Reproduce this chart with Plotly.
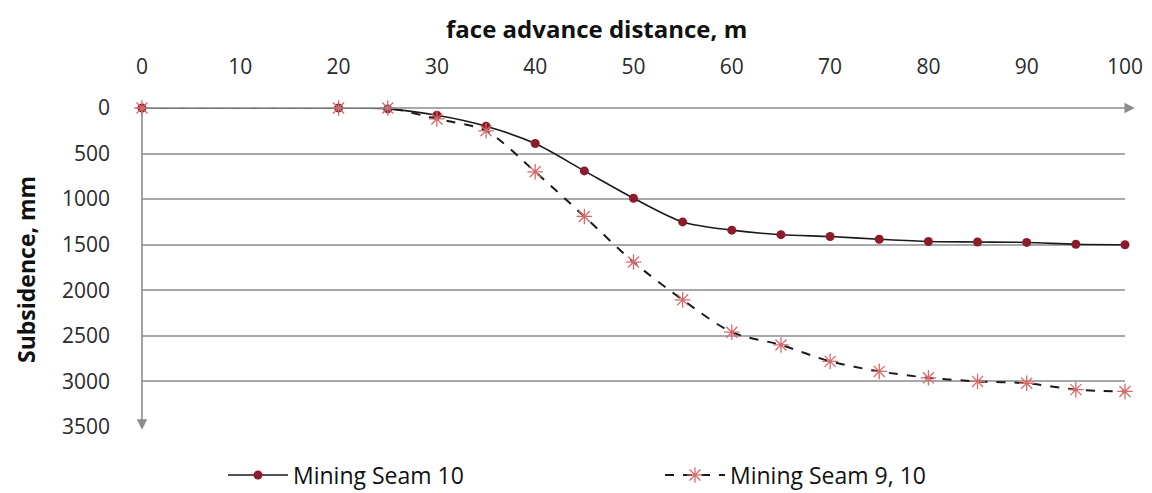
import plotly.graph_objects as go

distance = [0, 20, 25, 30, 35, 40, 45, 50, 55, 60, 65, 70, 75, 80, 85, 90, 95, 100]
seam10 = [0, 0, 10, 80, 200, 390, 690, 990, 1250, 1340, 1390, 1410, 1440, 1465, 1470, 1475, 1495, 1500]
seam9_10 = [0, 0, 0, 120, 250, 700, 1190, 1690, 2105, 2460, 2600, 2780, 2890, 2960, 3000, 3020, 3090, 3110]

x_ticks = list(range(0, 101, 10))
y_ticks = list(range(0, 3501, 500))

FONT = "Open Sans"
OFF = 8  # page body margin
W, H = 1152 - OFF, 493 - OFF
L, R, T, B = 142 - OFF, 1152 - 1125, 108 - OFF, 493 - 427
PW, PH = W - L - R, H - T - B


def px_to_paper(px, py):
    # screen pixel -> paper coords
    return (px - OFF - L) / PW, (H - B - (py - OFF)) / PH


fig = go.Figure()
fig.add_trace(go.Scatter(
    x=distance, y=seam10, name="Mining Seam 10", mode="lines+markers",
    line=dict(color="#1a1a1a", width=1.6, shape="spline", smoothing=0.8),
    marker=dict(symbol="circle", size=9, color="#8c1c2c"),
    cliponaxis=False, legend="legend",
))
fig.add_trace(go.Scatter(
    x=distance, y=seam9_10, name="Mining Seam 9, 10", mode="lines+markers",
    line=dict(color="#1a1a1a", width=2, dash="dash", shape="spline", smoothing=0.8),
    marker=dict(symbol="asterisk-open", size=13, color="#d86a6a", line=dict(width=1.3, color="#d86a6a")),
    cliponaxis=False, legend="legend2",
))

# axis lines with arrowheads
fig.add_annotation(x=101, y=0, ax=0, ay=0, xref="x", yref="y", axref="x", ayref="y",
                   showarrow=True, arrowhead=2, arrowsize=1.3, arrowwidth=1.6,
                   arrowcolor="#8c8c8c", text="")
fig.add_annotation(x=0, y=3530, ax=0, ay=0, xref="x", yref="y", axref="x", ayref="y",
                   showarrow=True, arrowhead=2, arrowsize=1.3, arrowwidth=1.6,
                   arrowcolor="#8c8c8c", text="")

tx, ty = px_to_paper(596, 28)
fig.add_annotation(text="<b>face advance distance, m</b>", xref="paper", yref="paper",
                   x=tx, y=ty, xanchor="center", yanchor="middle", showarrow=False,
                   font=dict(family=FONT, size=24, color="#111"))
vx, vy = px_to_paper(26, 270)
fig.add_annotation(text="<b>Subsidence, mm</b>", xref="paper", yref="paper",
                   x=vx, y=vy, xanchor="center", yanchor="middle",
                   textangle=-90, showarrow=False,
                   font=dict(family=FONT, size=23, color="#111"))

legend_style = dict(orientation="h", xanchor="left", yanchor="middle",
                    xref="container", yref="container",
                    font=dict(family=FONT, size=23, color="#111"),
                    itemwidth=60, bgcolor="rgba(0,0,0,0)")

fig.update_layout(
    width=W, height=H,
    margin=dict(l=L, r=R, t=T, b=B, autoexpand=False),
    paper_bgcolor="white", plot_bgcolor="white",
    font=dict(family=FONT, size=21, color="#222"),
    showlegend=True,
    legend=dict(x=(223 - OFF) / W, y=18 / H, **legend_style),
    legend2=dict(x=(660 - OFF) / W, y=18 / H, **legend_style),
    xaxis=dict(range=[0, 100], side="top", tickvals=x_ticks, showgrid=False,
               zeroline=False, showline=False, ticks="", ticklabelstandoff=29,
               automargin=False,
               tickfont=dict(family=FONT, size=21, color="#2a2a2a")),
    yaxis=dict(range=[3500, 0], tickvals=y_ticks, showgrid=True, gridcolor="#a8a8a8",
               gridwidth=1.6, zeroline=False, showline=False, ticks="",
               automargin=False,
               ticklabelstandoff=31, tickfont=dict(family=FONT, size=21, color="#2a2a2a")),
)

fig.write_html("out.html")
